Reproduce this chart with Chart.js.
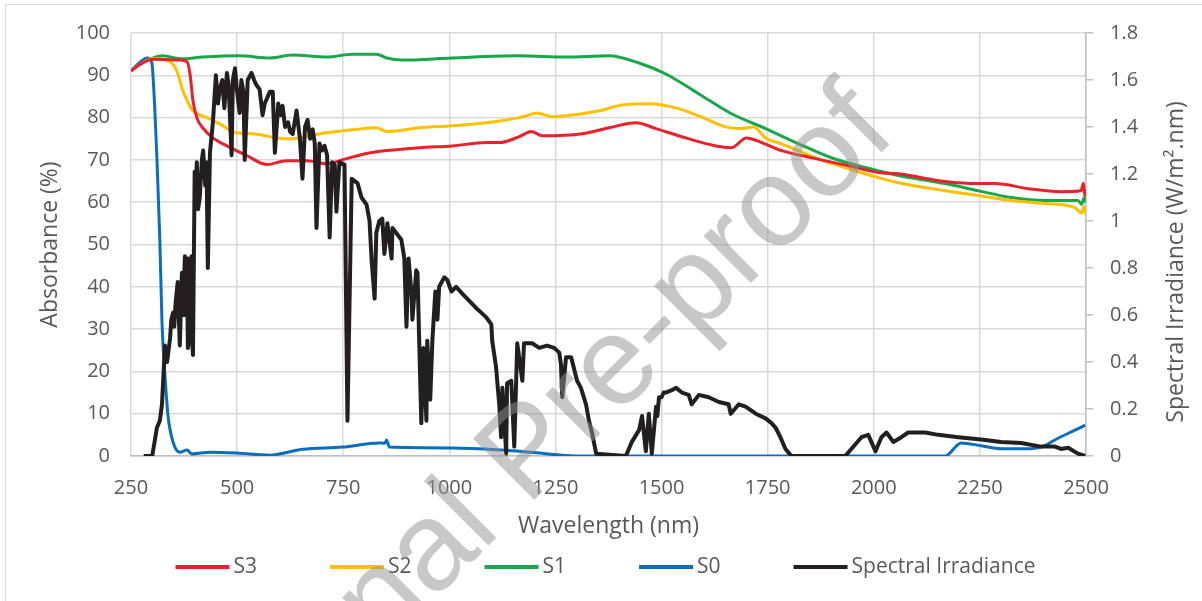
<!DOCTYPE html>
<html>
<head>
<meta charset="utf-8">
<script src="https://cdn.jsdelivr.net/npm/chart.js@4.4.0/dist/chart.umd.min.js"></script>
<style>
html,body{margin:0;padding:0;background:#fff;}
#wrap{width:1202px;height:601px;}
</style>
</head>
<body>
<div id="wrap"><canvas id="myChart" width="1202" height="601"></canvas></div>
<script>
// [wavelength nm, absorbance %]
const s3 = [[250,91.0],[270,92.5],[302,93.8],[365,93.6],[382,93.2],[389,90.3],[396,84.0],[405,80.0],[419,77.6],[443,75.2],[476,73.3],[523,71.0],[570,68.9],[617,69.8],[664,69.8],[711,69.1],[758,70.3],[805,71.5],[852,72.2],[929,72.9],[1007,73.3],[1087,74.1],[1118,74.1],[1165,75.5],[1193,76.7],[1219,75.7],[1313,76.2],[1376,77.6],[1440,78.8],[1487,77.4],[1557,75.2],[1628,73.3],[1665,72.9],[1700,75.2],[1736,74.1],[1783,72.2],[1863,70.3],[1941,68.6],[2011,67.0],[2058,66.7],[2168,64.9],[2246,64.4],[2286,64.4],[2364,63.2],[2441,62.5],[2488,62.7],[2494,64.5],[2497,61.5],[2500,63.0]];
const s2 = [[250,91.0],[270,92.5],[302,94.0],[342,93.2],[358,91.0],[370,87.0],[382,84.0],[396,81.6],[429,80.0],[459,78.5],[499,76.4],[537,76.2],[593,75.2],[631,75.0],[671,75.7],[711,76.4],[772,77.1],[828,77.6],[852,76.7],[929,77.6],[1007,78.1],[1087,78.8],[1118,79.2],[1165,80.0],[1181,80.4],[1207,81.1],[1242,80.2],[1313,80.9],[1353,81.6],[1407,83.0],[1470,83.3],[1534,82.3],[1588,80.4],[1651,77.8],[1689,77.4],[1717,77.8],[1745,75.2],[1783,73.8],[1863,70.5],[1941,67.9],[2011,65.8],[2058,64.6],[2168,62.7],[2246,61.6],[2324,60.4],[2404,59.7],[2474,58.7],[2490,57.5],[2495,59.0],[2500,57.0]];
const s1 = [[250,91.0],[270,92.5],[302,94.1],[325,94.6],[365,93.9],[419,94.3],[506,94.6],[577,94.1],[631,94.8],[711,94.3],[772,95.0],[828,95.0],[852,94.1],[889,93.6],[1007,94.1],[1165,94.6],[1275,94.3],[1376,94.6],[1447,92.9],[1510,90.3],[1588,85.6],[1665,80.9],[1745,77.4],[1823,73.8],[1900,70.5],[1980,68.2],[2058,66.3],[2168,64.4],[2246,62.7],[2324,61.1],[2404,60.4],[2481,60.4],[2490,59.5],[2495,61.0],[2500,60.0]];
const s0 = [[250,91.0],[270,93.0],[288,94.1],[299,93.0],[306,82.2],[311,70.5],[318,50.9],[323,31.6],[330,19.1],[337,9.7],[349,3.3],[365,0.9],[382,1.4],[393,0.5],[436,0.9],[499,0.7],[577,0.2],[654,1.6],[748,2.1],[835,3.1],[848,3.0],[852,3.8],[859,2.1],[1007,1.9],[1125,1.4],[1200,0.8],[1299,0],[2168,0],[2206,3.1],[2253,2.4],[2300,1.7],[2357,1.7],[2394,2.1],[2434,4.2],[2474,6.1],[2498,7.3]];

// [wavelength nm, W/m2.nm]
const irradiance = [[280,0],[300,0],[311,0.12],[318,0.15],[323,0.22],[330,0.47],[335,0.40],[342,0.50],[345,0.58],[349,0.61],[352,0.55],[355,0.65],[360,0.74],[365,0.47],[370,0.78],[372,0.60],[377,0.85],[378,0.60],[380,0.80],[382,0.84],[384,0.46],[386,0.50],[388,0.78],[390,0.55],[391,0.84],[393,0.85],[394,0.48],[396,0.43],[400,1.21],[403,1.15],[405,1.25],[408,1.05],[412,1.10],[417,1.26],[420,1.30],[425,1.15],[428,1.25],[431,0.80],[436,1.29],[443,1.42],[450,1.62],[455,1.50],[459,1.56],[465,1.60],[470,1.48],[476,1.63],[480,1.58],[487,1.28],[490,1.60],[495,1.65],[500,1.55],[506,1.46],[510,1.60],[515,1.55],[518,1.26],[525,1.60],[534,1.63],[540,1.60],[545,1.58],[553,1.56],[560,1.45],[565,1.50],[570,1.52],[577,1.55],[584,1.55],[589,1.29],[597,1.50],[602,1.45],[607,1.49],[613,1.40],[620,1.42],[625,1.38],[631,1.37],[640,1.47],[648,1.35],[654,1.18],[660,1.40],[666,1.43],[672,1.35],[678,1.39],[683,1.33],[687,0.97],[694,1.33],[700,1.30],[706,1.32],[712,1.28],[718,0.93],[724,1.25],[730,1.24],[734,1.04],[741,1.25],[753,1.24],[760,0.15],[770,1.18],[784,1.16],[793,1.10],[805,1.07],[812,1.00],[817,0.83],[824,0.67],[828,0.95],[835,1.00],[842,1.01],[847,0.86],[854,0.99],[864,0.84],[866,0.97],[887,0.92],[894,0.84],[899,0.55],[904,0.84],[911,0.69],[913,0.58],[922,0.79],[925,0.78],[929,0.49],[934,0.14],[939,0.46],[946,0.15],[948,0.49],[955,0.24],[960,0.49],[967,0.70],[972,0.58],[976,0.72],[988,0.76],[995,0.75],[1005,0.70],[1016,0.72],[1031,0.69],[1047,0.66],[1063,0.63],[1075,0.61],[1087,0.59],[1099,0.56],[1101,0.49],[1110,0.38],[1118,0.21],[1122,0.08],[1125,0.29],[1134,0.01],[1136,0.31],[1146,0.32],[1153,0.04],[1160,0.48],[1172,0.32],[1176,0.48],[1195,0.48],[1212,0.46],[1230,0.47],[1247,0.46],[1259,0.44],[1263,0.39],[1266,0.25],[1275,0.42],[1287,0.42],[1294,0.37],[1301,0.32],[1310,0.29],[1322,0.22],[1329,0.15],[1336,0.10],[1346,0.01],[1416,0],[1430,0.06],[1447,0.11],[1454,0.17],[1463,0.02],[1470,0.18],[1477,0.01],[1487,0.21],[1490,0.17],[1494,0.25],[1500,0.25],[1505,0.27],[1510,0.27],[1524,0.28],[1534,0.29],[1548,0.27],[1564,0.26],[1571,0.22],[1588,0.26],[1611,0.25],[1635,0.23],[1658,0.22],[1663,0.18],[1682,0.22],[1698,0.21],[1722,0.18],[1745,0.16],[1759,0.14],[1769,0.12],[1780,0.08],[1792,0.03],[1806,0],[1933,0],[1947,0.03],[1971,0.08],[1987,0.09],[2004,0.02],[2018,0.08],[2030,0.10],[2046,0.06],[2065,0.08],[2081,0.10],[2121,0.10],[2152,0.09],[2199,0.08],[2253,0.07],[2300,0.06],[2347,0.055],[2394,0.04],[2427,0.04],[2441,0.03],[2458,0.035],[2481,0.01],[2498,0]];

const irradianceTicks = ['0','0.2','0.4','0.6','0.8','1','1.2','1.4','1.6','1.8'];

const grey = '#595959';
const tickFont = {family: 'Open Sans', size: 20};
const titleFont = {family: 'Open Sans', size: 23};

function pts(arr){ return arr.map(p => ({x: p[0], y: p[1]})); }

// page border, top and left edge
const frame = {
  id: 'frame',
  beforeDraw(chart){
    const ctx = chart.ctx;
    ctx.save();
    ctx.strokeStyle = '#d9d9d9';
    ctx.lineWidth = 1;
    ctx.strokeRect(5.5, 4.5, 1400, 800);
    ctx.restore();
  }
};

// right axis title, reading bottom to top
const rightTitle = {
  id: 'rightTitle',
  afterDraw(chart){
    const ctx = chart.ctx;
    ctx.save();
    ctx.translate(1176, 262);
    ctx.rotate(-Math.PI / 2);
    ctx.font = '23px "Open Sans"';
    ctx.fillStyle = grey;
    ctx.textAlign = 'center';
    ctx.textBaseline = 'middle';
    ctx.fillText('Spectral Irradiance (W/m\u00b2.nm)', 0, 0);
    ctx.restore();
  }
};

// legend row under the x axis
const bottomLegend = {
  id: 'bottomLegend',
  afterDraw(chart){
    const ctx = chart.ctx;
    ctx.save();
    ctx.font = '21px "Open Sans"';
    const sw = 54, gap = 4, itemGap = 73, y = 567;
    const items = chart.data.datasets.map(d => ({label: d.label, color: d.borderColor, w: sw + gap + ctx.measureText(d.label).width}));
    const total = items.reduce((s, it) => s + it.w, 0) + itemGap * (items.length - 1);
    let x = 605.5 - total / 2;
    items.forEach(it => {
      ctx.strokeStyle = it.color;
      ctx.lineWidth = 4;
      ctx.beginPath();
      ctx.moveTo(x, y);
      ctx.lineTo(x + sw, y);
      ctx.stroke();
      ctx.fillStyle = grey;
      ctx.textAlign = 'left';
      ctx.textBaseline = 'middle';
      ctx.fillText(it.label, x + sw + gap, y);
      x += it.w + itemGap;
    });
    ctx.restore();
  }
};

// "Journal Pre-proof" stamp over the figure
const stamp = {
  id: 'stamp',
  afterDraw(chart){
    const ctx = chart.ctx;
    ctx.save();
    ctx.translate(527, 507);
    ctx.rotate(-45 * Math.PI / 180);
    ctx.font = '126px "Liberation Sans"';
    ctx.fillStyle = 'rgba(145,145,145,0.5)';
    ctx.strokeStyle = 'rgba(145,145,145,0.5)';
    ctx.lineWidth = 2;
    ctx.textBaseline = 'alphabetic';
    const w = ctx.measureText('Journal ').width;
    ctx.fillText('Journal Pre-proof', -w, 0);
    ctx.restore();
  }
};

let mychart = document.getElementById('myChart').getContext('2d');
let chart = new Chart(mychart, {
  type: 'line',
  data: {
    datasets: [
      {label: 'S3', data: pts(s3), borderColor: '#e8212b', yAxisID: 'y', order: 1},
      {label: 'S2', data: pts(s2), borderColor: '#ffc000', yAxisID: 'y', order: 2},
      {label: 'S1', data: pts(s1), borderColor: '#19a74a', yAxisID: 'y', order: 3},
      {label: 'S0', data: pts(s0), borderColor: '#0a6ebd', yAxisID: 'y', order: 4},
      {label: 'Spectral Irradiance', data: pts(irradiance), borderColor: '#231f20', yAxisID: 'y1', order: 0, borderWidth: 4, tension: 0, cubicInterpolationMode: 'default'}
    ]
  },
  options: {
    responsive: false,
    animation: false,
    devicePixelRatio: 1,
    layout: {padding: {top: 32, left: 0, right: 0, bottom: 60}},
    elements: {
      point: {radius: 0},
      line: {borderWidth: 3, cubicInterpolationMode: 'monotone', fill: false, borderJoinStyle: 'round'}
    },
    plugins: {legend: {display: false}, tooltip: {enabled: false}},
    scales: {
      x: {
        type: 'linear', min: 250, max: 2500,
        ticks: {stepSize: 250, font: tickFont, color: grey, padding: 20, maxRotation: 0, callback: v => String(v)},
        grid: {color: '#d9d9d9', lineWidth: 1.5, drawTicks: false},
        border: {color: '#bfbfbf', width: 1.5},
        title: {display: true, text: 'Wavelength (nm)', font: titleFont, color: grey, padding: {top: 0, bottom: 1}},
        afterFit: s => { s.height = 85; }
      },
      y: {
        position: 'left', min: 0, max: 100,
        ticks: {stepSize: 10, font: tickFont, color: grey, padding: 21},
        grid: {color: '#d9d9d9', lineWidth: 1.5, drawTicks: false},
        border: {display: false},
        title: {display: true, text: 'Absorbance (%)', font: titleFont, color: grey, padding: {top: 37, bottom: 0}},
        afterFit: s => { s.width = 131; }
      },
      y1: {
        position: 'right', min: 0, max: 1.8,
        ticks: {stepSize: 0.2, font: tickFont, color: grey, padding: 17, callback: (v, i) => irradianceTicks[i]},
        grid: {drawOnChartArea: false, drawTicks: true, tickLength: 7, color: '#bfbfbf', lineWidth: 1.5},
        border: {color: '#bfbfbf', width: 1.5},
        title: {display: false},
        afterFit: s => { s.width = 116; }
      }
    }
  },
  plugins: [frame, rightTitle, bottomLegend, stamp]
});
</script>
</body>
</html>
